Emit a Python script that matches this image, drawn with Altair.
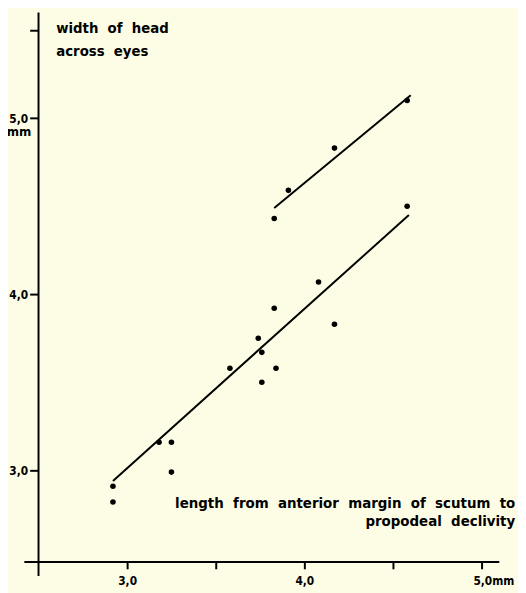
import altair as alt
import pandas as pd

# measured points (x: length mm, y: width of head mm)
x_low = [2.92, 2.92, 3.18, 3.25, 3.25, 3.58, 3.74, 3.76, 3.76, 3.84, 3.83, 4.08, 4.17, 4.58]
y_low = [2.91, 2.82, 3.16, 3.16, 2.99, 3.58, 3.75, 3.67, 3.50, 3.58, 3.92, 4.07, 3.83, 4.50]
x_up = [3.83, 3.91, 4.17, 4.58]
y_up = [4.43, 4.59, 4.83, 5.10]

# regression line end points
line_low_x = [2.92, 4.59]
line_low_y = [2.94, 4.45]
line_up_x = [3.83, 4.60]
line_up_y = [4.49, 5.13]

x_ticks = [3.0, 3.5, 4.0, 4.5, 5.0]
y_ticks = [3.0, 4.0, 5.0, 5.5]

SP = " \u00a0"
y_title_lines = SP.join(["width", "of", "head"]), SP.join(["across", "eyes"])
x_title_lines = (SP.join(["length", "from", "anterior", "margin", "of", "scutum", "to"]),
                 SP.join(["propodeal", "declivity"]))

FONT = "Liberation Sans Narrow, DejaVu Sans Condensed, sans-serif"
TFONT = "DejaVu Sans, sans-serif"
BG = "#fdfde6"

pts = pd.DataFrame({"x": x_low + x_up, "y": y_low + y_up})
lines = pd.DataFrame({
    "x": line_low_x + line_up_x,
    "y": line_low_y + line_up_y,
    "g": ["low", "low", "up", "up"],
})

xs = alt.Scale(domain=[2.5, 5.1], zero=False, nice=False)
ys = alt.Scale(domain=[2.48, 5.6], zero=False, nice=False)

x_axis = alt.Axis(
    values=x_ticks, domain=False, grid=False, tickSize=7, tickWidth=2,
    tickColor="black", labelColor="black", labelFont=FONT, labelFontSize=12,
    labelFontWeight="bold", labelPadding=7, labelOverlap=False, labelFlush=False,
    labelExpr="datum.value == 3 ? '3,0' : datum.value == 4 ? '4,0' : datum.value == 5 ? '5,0mm' : ''",
    labelOffset={"condition": {"test": "datum.value == 5", "value": 12}, "value": 0},
    title=None,
)
y_axis = alt.Axis(
    values=y_ticks, domain=False, grid=False, tickSize=9, tickWidth=2,
    tickColor="black", labelColor="black", labelFont=FONT, labelFontSize=12,
    labelFontWeight="bold", labelPadding=2, labelOverlap=False, labelFlush=False,
    labelExpr="datum.value == 3 ? '3,0' : datum.value == 4 ? '4,0' : datum.value == 5 ? '5,0' : ''",
    title=None,
)

base_pts = alt.Chart(pts).mark_circle(size=32, color="black", opacity=1).encode(
    x=alt.X("x:Q", scale=xs, axis=x_axis),
    y=alt.Y("y:Q", scale=ys, axis=y_axis),
)

reg = alt.Chart(lines).mark_line(color="black", strokeWidth=2).encode(
    x=alt.X("x:Q", scale=xs),
    y=alt.Y("y:Q", scale=ys),
    detail="g:N",
)

y_line = alt.Chart().mark_rule(color="black", strokeWidth=2).encode(
    x=alt.datum(2.5), y=alt.datum(2.40), y2=alt.datum(5.6)
)
x_line = alt.Chart().mark_rule(color="black", strokeWidth=2).encode(
    y=alt.datum(2.48), x=alt.datum(2.42), x2=alt.datum(5.1)
)

mm = alt.Chart().mark_text(text="mm", font=TFONT, fontSize=12, fontWeight="bold",
                           align="center", baseline="middle", dy=14, color="black").encode(
    x=alt.datum(2.39), y=alt.datum(5.0)
)

ytitle = pd.DataFrame({"x": [2.6, 2.6], "y": [5.483, 5.354], "t": list(y_title_lines)})
xtitle = pd.DataFrame({"x": [5.19, 5.19], "y": [2.784, 2.684], "t": list(x_title_lines)})

yt = alt.Chart(ytitle).mark_text(font=TFONT, fontSize=13.5, fontWeight="bold", align="left",
                                 baseline="alphabetic", color="black").encode(
    x=alt.X("x:Q", scale=xs), y=alt.Y("y:Q", scale=ys), text="t:N")
xt = alt.Chart(xtitle).mark_text(font=TFONT, fontSize=13.6, fontWeight="bold", align="right",
                                 baseline="alphabetic", color="black").encode(
    x=alt.X("x:Q", scale=xs), y=alt.Y("y:Q", scale=ys), text="t:N")

chart = alt.layer(base_pts, reg, y_line, x_line, mm, yt, xt).properties(
    width=468, height=558,
    autosize=alt.AutoSizeParams(type="none"),
    padding={"left": 31, "top": 0, "right": 19, "bottom": 27},
    background=BG,
).configure_view(stroke=None)

chart.save("out.html", embed_options={"renderer": "svg", "actions": False})
